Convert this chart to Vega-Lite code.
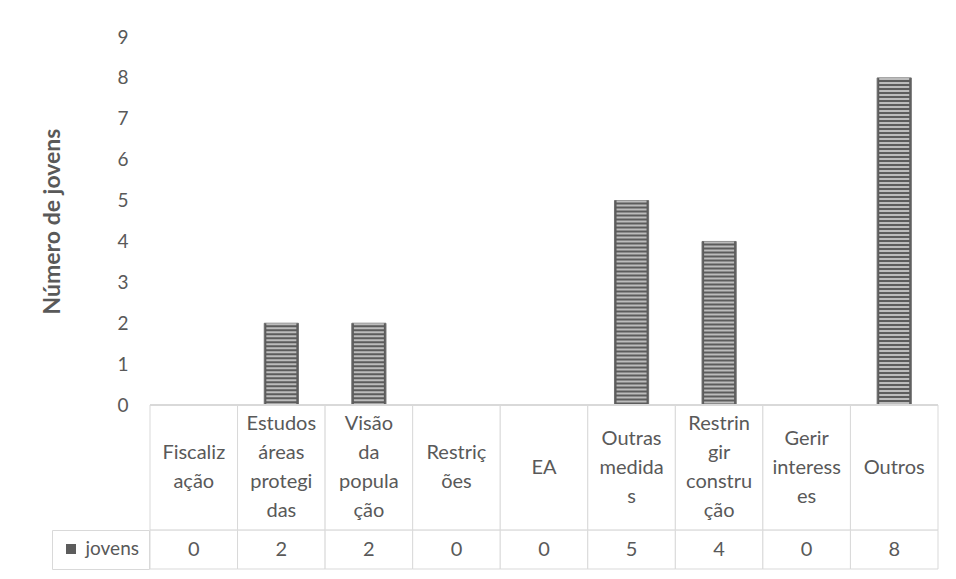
{
  "$schema": "https://vega.github.io/schema/vega-lite/v6.json",
  "autosize": {"type": "none"},
  "width": 788,
  "height": 532,
  "padding": {"left": 150, "top": 37, "right": 18, "bottom": 10},
  "background": "white",
  "config": {"view": {"stroke": null}, "font": "Lato"},
  "data": {
    "values": [
      {"categoria": "Fiscalização", "rotulo": "Fiscaliz\nação", "serie": "jovens", "valor": 0},
      {"categoria": "Estudos áreas protegidas", "rotulo": "Estudos\náreas\nprotegi\ndas", "serie": "jovens", "valor": 2},
      {"categoria": "Visão da população", "rotulo": "Visão\nda\npopula\nção", "serie": "jovens", "valor": 2},
      {"categoria": "Restrições", "rotulo": "Restriç\nões", "serie": "jovens", "valor": 0},
      {"categoria": "EA", "rotulo": "EA", "serie": "jovens", "valor": 0},
      {"categoria": "Outras medidas", "rotulo": "Outras\nmedida\ns", "serie": "jovens", "valor": 5},
      {"categoria": "Restringir construção", "rotulo": "Restrin\ngir\nconstru\nção", "serie": "jovens", "valor": 4},
      {"categoria": "Gerir interesses", "rotulo": "Gerir\ninteress\nes", "serie": "jovens", "valor": 0},
      {"categoria": "Outros", "rotulo": "Outros", "serie": "jovens", "valor": 8}
    ]
  },
  "layer": [
    {
      "mark": {"type": "rect", "fill": "white", "stroke": "#d9d9d9", "strokeWidth": 1},
      "encoding": {
        "x": {
          "field": "categoria", "type": "nominal", "sort": null,
          "scale": {
            "paddingInner": 0, "paddingOuter": 0,
            "domain": ["Fiscalização", "Estudos áreas protegidas", "Visão da população", "Restrições", "EA", "Outras medidas", "Restringir construção", "Gerir interesses", "Outros"]
          },
          "axis": null
        },
        "y": {
          "datum": 0, "type": "quantitative",
          "scale": {"domain": [-4.01, 9], "nice": false, "zero": false},
          "axis": {
            "values": [0, 1, 2, 3, 4, 5, 6, 7, 8, 9],
            "title": "Número de jovens",
            "domain": false, "ticks": false, "grid": false,
            "labelFontSize": 19, "labelColor": "#595959", "labelPadding": 22,
            "titleFontSize": 23, "titleFontWeight": "bold", "titleColor": "#595959",
            "titleX": -98, "titleY": 184, "titleBaseline": "middle", "titleAlign": "center", "titleAngle": 270
          }
        },
        "y2": {"datum": -3.06}
      }
    },
    {
      "mark": {"type": "rect", "fill": "white", "stroke": "#d9d9d9", "strokeWidth": 1},
      "encoding": {
        "x": {"field": "categoria", "type": "nominal", "sort": null},
        "y": {"datum": -3.06, "type": "quantitative"},
        "y2": {"datum": -4.01}
      }
    },
    {
      "transform": [{"filter": "datum.valor > 0"}],
      "mark": {"type": "bar", "width": {"band": 0.39}, "stroke": "#6e6e6e", "strokeWidth": 1},
      "encoding": {
        "x": {"field": "categoria", "type": "nominal", "sort": null},
        "y": {"field": "valor", "type": "quantitative"},
        "y2": {"datum": 0},
        "fill": {
          "field": "serie", "type": "nominal",
          "scale": {"range": ["#5c5c5c"]},
          "legend": {
            "orient": "none", "legendX": -98, "legendY": 493,
            "title": null, "symbolType": "square", "symbolSize": 100, "symbolStrokeWidth": 0,
            "labelFontSize": 19, "labelColor": "#595959", "labelOffset": 5,
            "padding": 9.5, "strokeColor": "#d9d9d9", "fillColor": "white", "cornerRadius": 0
          }
        }
      }
    },
    {
      "transform": [{"filter": "datum.valor > 0"}],
      "mark": {"type": "rule", "stroke": "#bcbcbc", "strokeWidth": 30, "strokeDash": [2, 2], "strokeCap": "butt"},
      "encoding": {
        "x": {"field": "categoria", "type": "nominal", "sort": null},
        "y": {"field": "valor", "type": "quantitative"},
        "y2": {"datum": 0}
      }
    },
    {
      "mark": {"type": "rule", "stroke": "#d9d9d9", "strokeWidth": 2},
      "encoding": {"y": {"datum": 0, "type": "quantitative"}}
    },
    {
      "transform": [
        {"calculate": "length(split(datum.rotulo, '\\n'))", "as": "nlinhas"},
        {"calculate": "-1.53 + (datum.nlinhas - 1) * 0.355", "as": "ylinha1"}
      ],
      "mark": {"type": "text", "lineBreak": "\n", "fontSize": 20, "lineHeight": 29, "color": "#595959", "baseline": "middle", "align": "center"},
      "encoding": {
        "x": {"field": "categoria", "type": "nominal", "sort": null},
        "y": {"field": "ylinha1", "type": "quantitative"},
        "text": {"field": "rotulo", "type": "nominal"}
      }
    },
    {
      "mark": {"type": "text", "fontSize": 20, "color": "#595959", "baseline": "middle", "align": "center"},
      "encoding": {
        "x": {"field": "categoria", "type": "nominal", "sort": null},
        "y": {"datum": -3.535, "type": "quantitative"},
        "text": {"field": "valor", "type": "quantitative"}
      }
    }
  ]
}
